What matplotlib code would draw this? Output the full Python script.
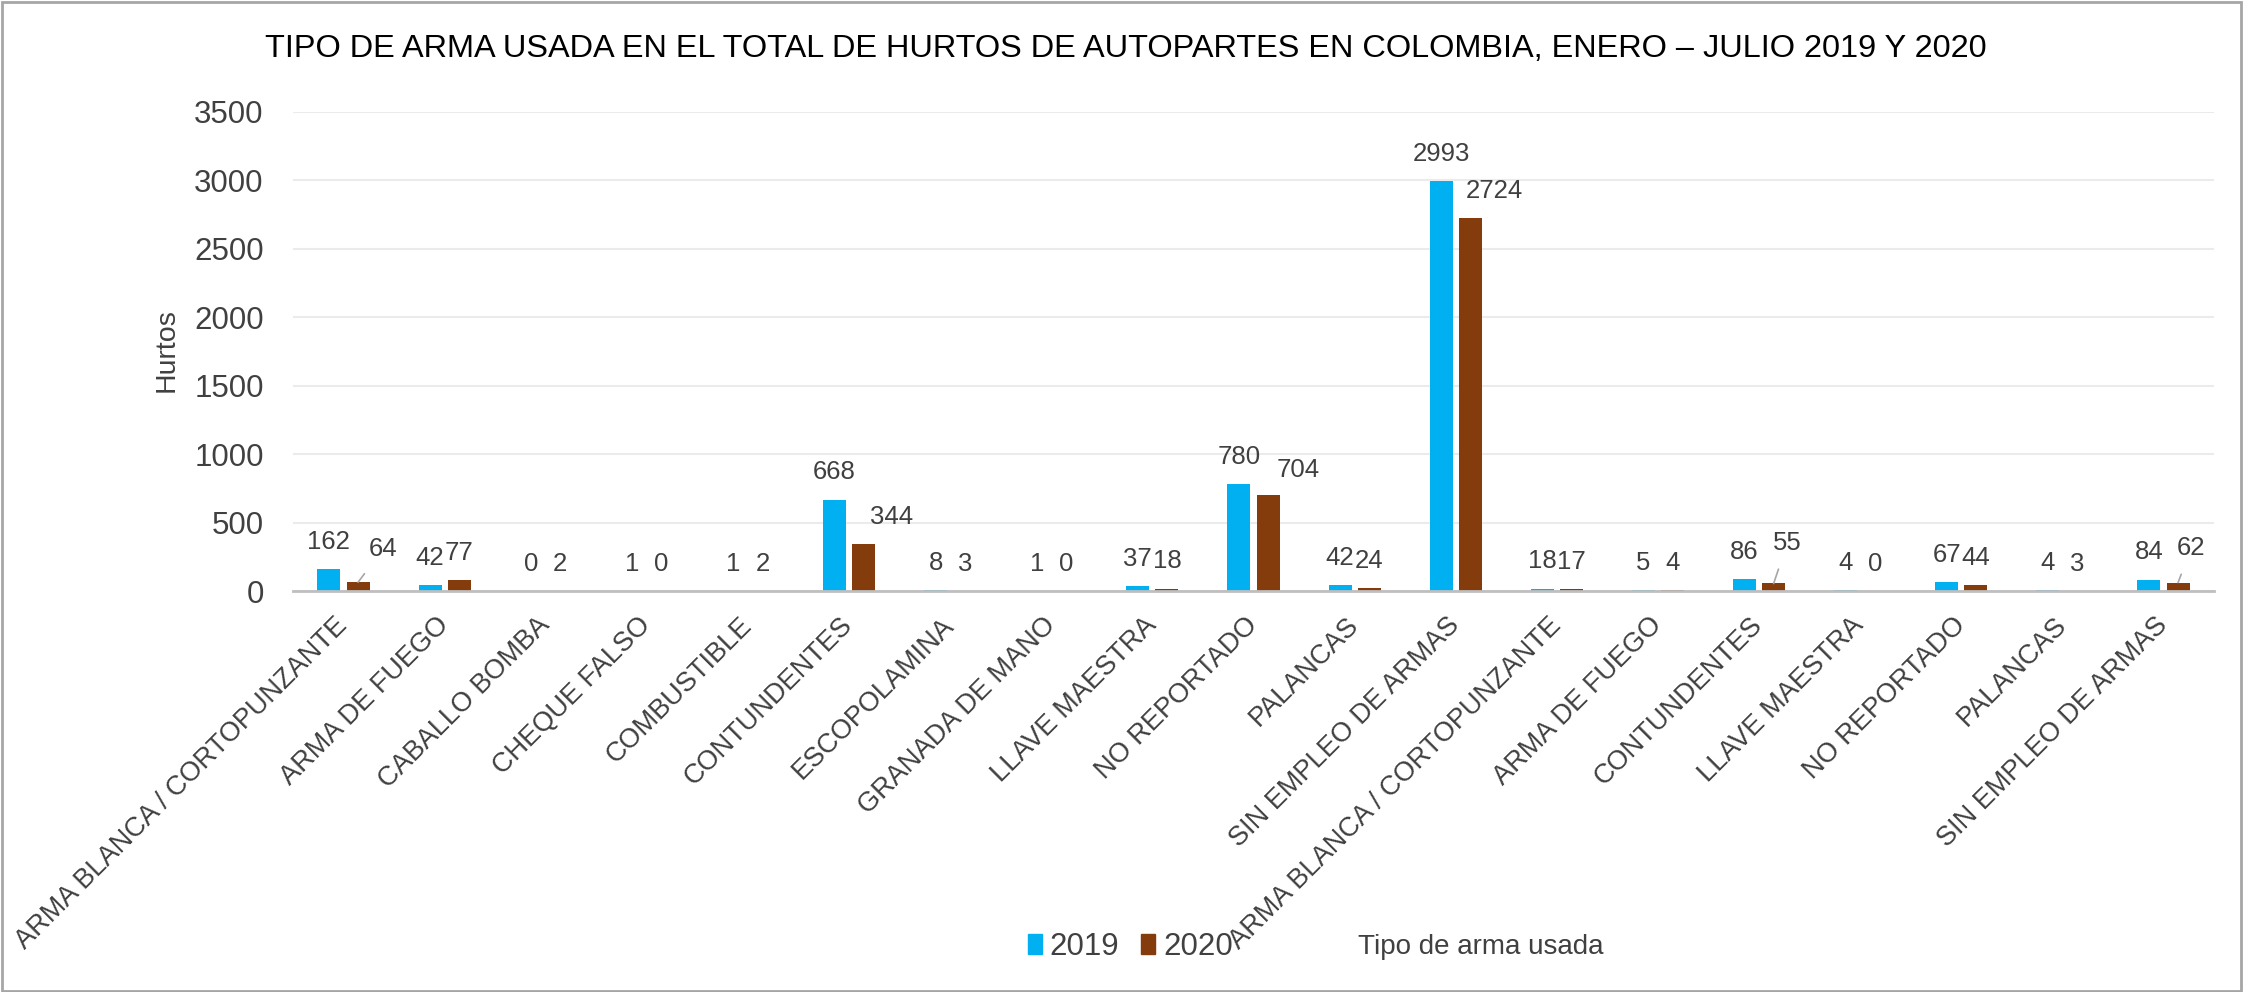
import numpy as np
import matplotlib
matplotlib.use("Agg")
import matplotlib.pyplot as plt
from matplotlib.patches import Rectangle

categorias = ["ARMA BLANCA / CORTOPUNZANTE", "ARMA DE FUEGO", "CABALLO BOMBA",
              "CHEQUE FALSO", "COMBUSTIBLE", "CONTUNDENTES", "ESCOPOLAMINA",
              "GRANADA DE MANO", "LLAVE MAESTRA", "NO REPORTADO", "PALANCAS",
              "SIN EMPLEO DE ARMAS", "ARMA BLANCA / CORTOPUNZANTE", "ARMA DE FUEGO",
              "CONTUNDENTES", "LLAVE MAESTRA", "NO REPORTADO", "PALANCAS",
              "SIN EMPLEO DE ARMAS"]
hurtos_2019 = [162, 42, 0, 1, 1, 668, 8, 1, 37, 780, 42, 2993, 18, 5, 86, 4, 67, 4, 84]
hurtos_2020 = [64, 77, 2, 0, 2, 344, 3, 0, 18, 704, 24, 2724, 17, 4, 55, 0, 44, 3, 62]
yticks = [0, 500, 1000, 1500, 2000, 2500, 3000, 3500]

c2019 = "#00B0F0"
c2020 = "#843C0C"
gris = "#404040"
fuente = ["Liberation Sans", "DejaVu Sans"]

fig = plt.figure(figsize=(22.43, 9.92), dpi=100)
ax = fig.add_axes([0.1306, 0.4042, 0.8565, 0.4833])

x = np.arange(len(categorias))
w = 0.228
off = 0.144
ax.bar(x - off, hurtos_2019, w, color=c2019, zorder=3)
ax.bar(x + off, hurtos_2020, w, color=c2020, zorder=3)

# etiquetas de datos; las de 2020 que chocan se corren a la derecha
corridas = {0: (18, 24), 5: (20, 19.5), 9: (22, 18), 11: (17, 19.5), 14: (10, 29.5), 18: (9.5, 25)}
con_linea = [0, 14, 18]
for i in x:
    ax.annotate(str(hurtos_2019[i]), (x[i] - off, hurtos_2019[i]), xytext=(0, 19.5),
                textcoords="offset points", ha="center", va="center",
                fontsize=18.5, family=fuente, color=gris)
    dx, dy = corridas.get(i, (0, 19.5))
    flecha = None
    if i in con_linea:
        flecha = dict(arrowstyle="-", color="#A6A6A6", lw=1.2, shrinkA=9, shrinkB=0)
    ax.annotate(str(hurtos_2020[i]), (x[i] + off, hurtos_2020[i]), xytext=(dx, dy),
                textcoords="offset points", ha="center", va="center",
                fontsize=18.5, family=fuente, color=gris, arrowprops=flecha)

ax.set_xlim(-0.5, len(categorias) - 0.5)
ax.set_ylim(0, 3500)
ax.set_yticks(yticks)
ax.set_yticklabels([str(t) for t in yticks], family=fuente, fontsize=22.5, color=gris)
ax.set_xticks(x)
ax.set_xticklabels(categorias, rotation=45, ha="right", va="center",
                   rotation_mode="anchor", family=fuente, fontsize=19.5, color=gris)
ax.tick_params(axis="both", length=0)
ax.tick_params(axis="x", pad=22)
ax.tick_params(axis="y", pad=21)
ax.grid(axis="y", color="#EBEBEB", lw=1.5, zorder=0)
for s in ["top", "right", "left"]:
    ax.spines[s].set_visible(False)
ax.spines["bottom"].set_color("#BFBFBF")
ax.spines["bottom"].set_linewidth(2)
ax.spines["bottom"].set_zorder(4)

fig.text(167 / 2243, 1 - 350 / 992, "Hurtos", rotation=90, ha="center", va="center",
         family=fuente, fontsize=20.5, color=gris)
fig.text(0.502, 0.951,
         "TIPO DE ARMA USADA EN EL TOTAL DE HURTOS DE AUTOPARTES EN COLOMBIA, ENERO \u2013 JULIO 2019 Y 2020",
         ha="center", va="center", family=fuente, fontsize=23.4, color="black")
fig.text(0.66, 0.0454, "Tipo de arma usada", ha="center", va="center",
         family=fuente, fontsize=20, color=gris)

h1 = Rectangle((0, 0), 1, 1, color=c2019)
h2 = Rectangle((0, 0), 1, 1, color=c2020)
fig.legend([h1, h2], ["2019", "2020"], loc="center", bbox_to_anchor=(0.504, 0.0454),
           ncol=2, frameon=False, handlelength=0.45, handleheight=0.64,
           handletextpad=0.25, columnspacing=0.7,
           prop={"family": fuente, "size": 22.5})
for t in fig.legends[0].get_texts():
    t.set_color(gris)

fig.patches.append(Rectangle((0.001, 0.001), 0.998, 0.997, transform=fig.transFigure,
                             fill=False, edgecolor="#A6A6A6", lw=2))

fig.savefig("out.png", dpi=100)
